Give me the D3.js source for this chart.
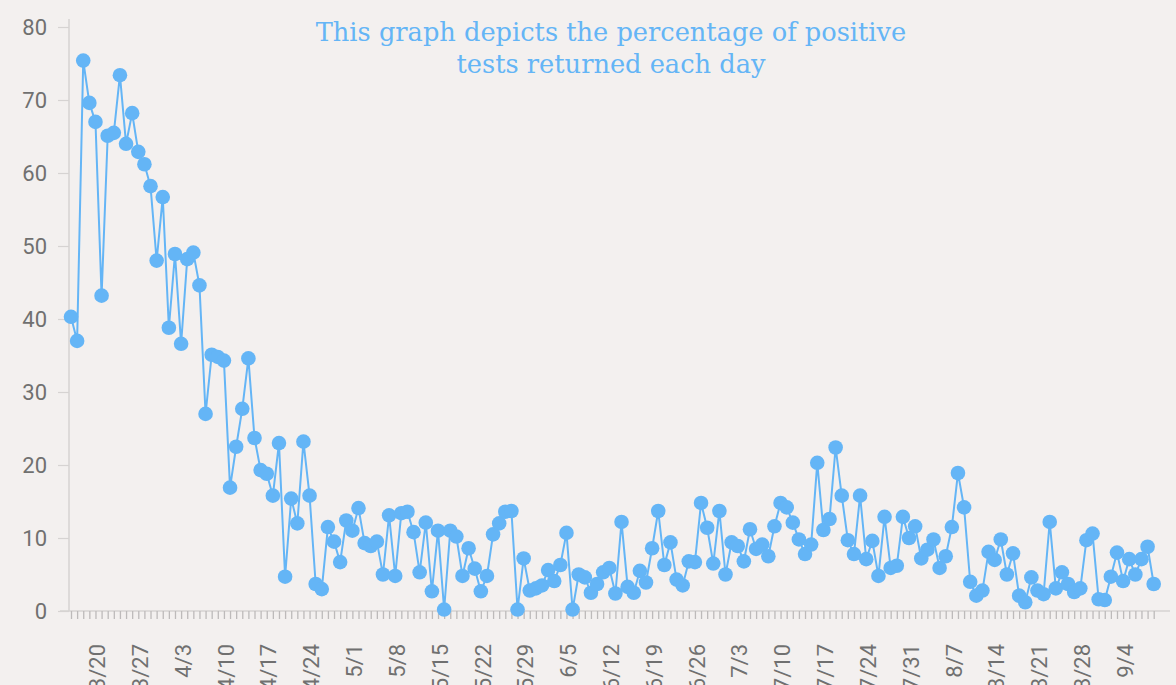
<!DOCTYPE html>
<html>
<head>
<meta charset="utf-8">
<script src="https://cdn.jsdelivr.net/npm/d3@7"></script>
<style>
  html, body { margin: 0; padding: 0; background: #f3f0ef; }
  svg { display: block; }
</style>
</head>
<body>
<div id="chart"></div>
<script>
// ---- data ----
const startDate = "2020-03-16";
const positivePct = [
  40.3, 37.0, 75.4, 69.6, 67.0, 43.2, 65.1, 65.5, 73.4, 64.0,
  68.2, 62.9, 61.2, 58.2, 48.0, 56.7, 38.8, 48.9, 36.6, 48.2,
  49.1, 44.6, 27.0, 35.1, 34.8, 34.3, 16.9, 22.5, 27.7, 34.6,
  23.7, 19.3, 18.8, 15.8, 23.0, 4.7, 15.4, 12.0, 23.2, 15.8,
  3.7, 3.0, 11.5, 9.5, 6.7, 12.4, 11.0, 14.1, 9.3, 8.9,
  9.5, 5.0, 13.1, 4.8, 13.4, 13.6, 10.8, 5.3, 12.1, 2.7,
  11.0, 0.2, 11.0, 10.2, 4.8, 8.6, 5.8, 2.7, 4.8, 10.5,
  12.0, 13.6, 13.7, 0.2, 7.2, 2.8, 3.1, 3.5, 5.6, 4.1,
  6.3, 10.7, 0.2, 5.0, 4.6, 2.5, 3.7, 5.3, 5.9, 2.4,
  12.2, 3.3, 2.5, 5.5, 3.9, 8.6, 13.7, 6.3, 9.4, 4.3,
  3.5, 6.8, 6.7, 14.8, 11.4, 6.5, 13.7, 5.0, 9.4, 8.9,
  6.8, 11.2, 8.5, 9.1, 7.5, 11.6, 14.8, 14.2, 12.1, 9.8,
  7.8, 9.1, 20.3, 11.1, 12.6, 22.4, 15.8, 9.7, 7.8, 15.8,
  7.1, 9.6, 4.8, 12.9, 5.9, 6.2, 12.9, 10.0, 11.6, 7.2,
  8.4, 9.8, 5.9, 7.5, 11.5, 18.9, 14.2, 4.0, 2.1, 2.8,
  8.1, 7.0, 9.8, 5.0, 7.9, 2.1, 1.2, 4.6, 2.8, 2.3,
  12.2, 3.1, 5.3, 3.7, 2.6, 3.1, 9.7, 10.6, 1.6, 1.5,
  4.7, 8.0, 4.1, 7.1, 5.0, 7.1, 8.8, 3.7
];
const xTickLabels = ["3/20","3/27","4/3","4/10","4/17","4/24","5/1","5/8","5/15","5/22","5/29","6/5",
  "6/12","6/19","6/26","7/3","7/10","7/17","7/24","7/31","8/7","8/14","8/21","8/28","9/4"];
const yTickValues = [0, 10, 20, 30, 40, 50, 60, 70, 80];
const titleLines = ["This graph depicts the percentage of positive", "tests returned each day"];

// ---- layout ----
const W = 1176, H = 685;
const blue = "#64b5f6";
const parse = d3.timeParse("%Y-%m-%d");
const fmt = d3.timeFormat("%-m/%-d");
const d0 = parse(startDate);
const dates = positivePct.map((_, i) => d3.timeDay.offset(d0, i));
const data = positivePct.map((v, i) => ({date: dates[i], value: v}));

const svg = d3.select("#chart").append("svg").attr("width", W).attr("height", H);
svg.append("rect").attr("width", W).attr("height", H).attr("fill", "#f3f0ef");

const x = d3.scaleTime().domain([dates[0], dates[dates.length - 1]]).range([71, 1153.7]);
const y = d3.scaleLinear().domain([0, 80]).range([611, 27]);

// y axis
const yAxisG = svg.append("g").attr("transform", "translate(69,0)");
yAxisG.append("line").attr("x1", 0).attr("x2", 0).attr("y1", 19).attr("y2", 611)
  .attr("stroke", "#d6d3d2").attr("stroke-width", 1.5);
yAxisG.call(d3.axisLeft(y).tickValues(yTickValues).tickSize(11).tickPadding(11))
  .call(g => g.select(".domain").remove())
  .call(g => g.selectAll(".tick line").attr("stroke", "#d6d3d2").attr("stroke-width", 1.2))
  .call(g => g.selectAll(".tick text").attr("fill", "#707070")
      .style("font-family", "Roboto, sans-serif").style("font-size", "22px"));

// x axis baseline
svg.append("line").attr("x1", 60).attr("x2", 1170).attr("y1", 611).attr("y2", 611)
  .attr("stroke", "#d6d3d2").attr("stroke-width", 1.5);

// daily ticks
const xAxisG = svg.append("g").attr("transform", "translate(0,611)");
xAxisG.call(d3.axisBottom(x).tickValues(dates).tickSize(8).tickFormat(""))
  .call(g => g.select(".domain").remove())
  .call(g => g.selectAll(".tick line").attr("stroke", "#bdbaba").attr("stroke-width", 1.3));

// weekly labels
const labelDates = dates.filter(d => xTickLabels.includes(fmt(d)));
svg.append("g").selectAll("text").data(labelDates).join("text")
  .attr("transform", d => `translate(${x(d) + 2},644) rotate(-90)`)
  .attr("dy", "0.35em")
  .attr("text-anchor", "end")
  .attr("fill", "#707070")
  .style("font-family", "Roboto, sans-serif")
  .style("font-size", "22px")
  .text(d => xTickLabels[xTickLabels.indexOf(fmt(d))]);

// line
const line = d3.line().x(d => x(d.date)).y(d => y(d.value));
svg.append("path").datum(data).attr("d", line)
  .attr("fill", "none").attr("stroke", blue).attr("stroke-width", 2);

// points
svg.append("g").selectAll("circle").data(data).join("circle")
  .attr("cx", d => x(d.date)).attr("cy", d => y(d.value)).attr("r", 7.3)
  .attr("fill", blue);

// title
const titleG = svg.append("g");
const titles = titleG.selectAll("text").data(titleLines).join("text")
  .attr("x", 611).attr("y", (d, i) => 41 + i * 32)
  .attr("text-anchor", "middle")
  .attr("fill", blue)
  .style("font-family", "'DejaVu Serif', serif")
  .style("font-size", "24px")
  .text(d => d);
const w0 = titles.nodes()[0].getComputedTextLength();
const fs = 24 * 591 / w0;
titles.style("font-size", fs + "px");
</script>
</body>
</html>
